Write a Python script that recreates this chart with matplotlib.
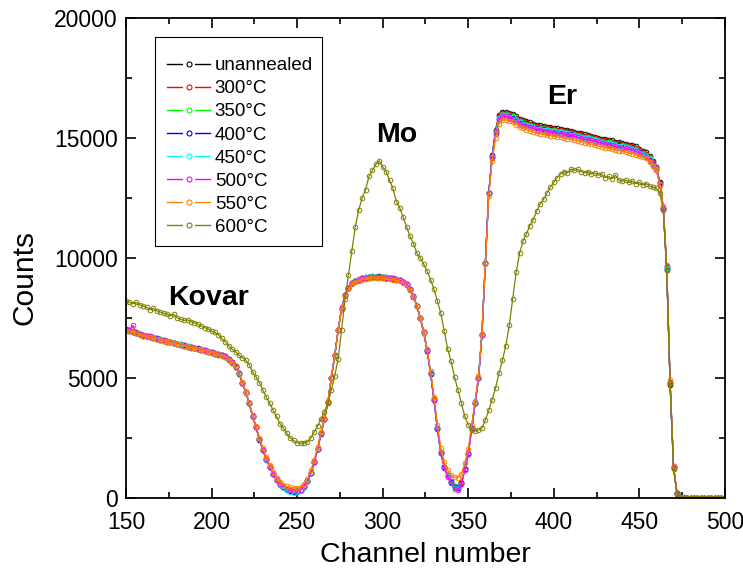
import numpy as np
import matplotlib
matplotlib.use("Agg")
import matplotlib.pyplot as plt
from matplotlib.lines import Line2D
from matplotlib.patches import Rectangle
from matplotlib.legend_handler import HandlerTuple
from matplotlib.ticker import MultipleLocator

plt.rcParams["font.family"] = ["Liberation Sans", "DejaVu Sans"]

# RBS spectra, one value every 2 channels from 150 to 500
channels = np.arange(150, 501, 2)

labels = ["unannealed", "300°C", "350°C", "400°C", "450°C", "500°C", "550°C", "600°C"]
colors = ["#000000", "#ff0000", "#00ff00", "#0000ff", "#00ffff", "#ff00ff", "#ff8000", "#808000"]

counts_unannealed = [
    7050, 6980, 6900, 6910, 6850, 6760, 6770, 6700, 6690, 6620,
    6620, 6540, 6550, 6480, 6470, 6400, 6410, 6330, 6340, 6270,
    6260, 6200, 6210, 6140, 6120, 6050, 6040, 5970, 5960, 5880,
    5790, 5640, 5490, 5180, 4810, 4380, 3970, 3380, 2960, 2430,
    2010, 1600, 1310, 980, 760, 560, 450, 350, 310, 260,
    280, 320, 470, 690, 1060, 1480, 2060, 2680, 3310, 3980,
    5020, 5930, 7010, 7880, 8460, 8730, 8970, 9030, 9120, 9130,
    9200, 9180, 9240, 9190, 9230, 9180, 9200, 9150, 9170, 9100,
    9100, 8980, 8920, 8680, 8420, 7980, 7520, 6880, 6170, 5180,
    4110, 2880, 1890, 1290, 930, 680, 470, 420, 630, 1190,
    1860, 2880, 3960, 4980, 6820, 9780, 12720, 14300, 15350, 15950,
    16100, 16080, 16050, 16000, 15900, 15800, 15750, 15700, 15650, 15600,
    15550, 15530, 15500, 15470, 15450, 15420, 15400, 15380, 15350, 15330,
    15300, 15270, 15230, 15200, 15150, 15130, 15100, 15050, 15020, 14980,
    14950, 14930, 14900, 14850, 14830, 14800, 14770, 14730, 14700, 14650,
    14550, 14480, 14400, 14250, 14050, 13800, 13150, 12050, 9500, 4700,
    1250, 180, 30, 15, 10, 5, 5, 10, 5, 5,
    5, 10, 5, 5, 10, 5,
]

counts_300 = [
    6980, 6970, 6940, 6860, 6840, 6790, 6730, 6740, 6670, 6650,
    6590, 6570, 6510, 6510, 6450, 6430, 6380, 6360, 6310, 6300,
    6240, 6230, 6180, 6160, 6100, 6080, 6020, 6000, 5940, 5910,
    5770, 5660, 5470, 5210, 4790, 4410, 3950, 3410, 2940, 2460,
    1990, 1630, 1290, 1010, 740, 590, 460, 380, 330, 290,
    300, 340, 490, 710, 1040, 1510, 2040, 2710, 3290, 4010,
    4990, 5960, 6990, 7910, 8440, 8760, 8940, 9060, 9090, 9160,
    9170, 9210, 9200, 9220, 9200, 9210, 9170, 9180, 9140, 9130,
    9070, 9010, 8890, 8710, 8390, 8010, 7490, 6910, 6140, 5210,
    4090, 2910, 1910, 1310, 960, 710, 520, 460, 660, 1210,
    1840, 2910, 3940, 5010, 6790, 9810, 12690, 14250, 15300, 15900,
    16050, 16050, 16000, 15950, 15850, 15750, 15700, 15650, 15600, 15550,
    15500, 15480, 15450, 15420, 15400, 15370, 15350, 15330, 15300, 15280,
    15250, 15220, 15180, 15150, 15100, 15080, 15050, 15000, 14970, 14930,
    14900, 14880, 14850, 14800, 14780, 14750, 14720, 14680, 14650, 14600,
    14500, 14430, 14350, 14200, 14000, 13780, 13120, 12080, 9550, 4750,
    1280, 190, 35, 20, 10, 10, 5, 5, 10, 5,
    10, 5, 5, 10, 5, 5,
]

counts_350 = [
    7020, 6940, 6930, 6890, 6820, 6800, 6740, 6730, 6690, 6630,
    6610, 6550, 6540, 6490, 6470, 6410, 6400, 6340, 6330, 6280,
    6260, 6210, 6200, 6140, 6120, 6060, 6040, 5980, 5960, 5890,
    5790, 5640, 5490, 5190, 4810, 4390, 3970, 3390, 2960, 2440,
    2010, 1610, 1310, 990, 760, 570, 460, 360, 320, 270,
    290, 320, 480, 690, 1050, 1490, 2050, 2690, 3300, 3990,
    5010, 5940, 7000, 7890, 8450, 8740, 8960, 9040, 9110, 9140,
    9190, 9190, 9230, 9190, 9210, 9190, 9190, 9160, 9160, 9110,
    9090, 8990, 8910, 8690, 8410, 7990, 7510, 6890, 6160, 5190,
    4100, 2890, 1900, 1300, 940, 690, 490, 440, 640, 1200,
    1850, 2890, 3950, 4990, 6810, 9790, 12710, 14220, 15250, 15850,
    16000, 16000, 15950, 15900, 15800, 15700, 15650, 15600, 15550, 15500,
    15450, 15430, 15400, 15370, 15350, 15320, 15300, 15280, 15250, 15230,
    15200, 15170, 15130, 15100, 15050, 15030, 15000, 14950, 14920, 14880,
    14850, 14830, 14800, 14750, 14730, 14700, 14670, 14630, 14600, 14550,
    14450, 14380, 14300, 14150, 13950, 13720, 13080, 12060, 9580, 4780,
    1300, 200, 40, 20, 15, 10, 10, 5, 5, 10,
    5, 5, 10, 5, 5, 10,
]

counts_400 = [
    6990, 6970, 6910, 6870, 6840, 6770, 6760, 6710, 6680, 6650,
    6590, 6570, 6520, 6510, 6450, 6430, 6380, 6360, 6310, 6300,
    6240, 6230, 6180, 6160, 6100, 6080, 6020, 6000, 5940, 5910,
    5770, 5660, 5470, 5210, 4790, 4410, 3950, 3410, 2940, 2460,
    1990, 1630, 1290, 1010, 740, 590, 440, 360, 300, 240,
    260, 320, 470, 710, 1040, 1510, 2040, 2710, 3290, 4010,
    4990, 5960, 6990, 7910, 8440, 8760, 8940, 9060, 9090, 9160,
    9170, 9210, 9210, 9210, 9210, 9210, 9170, 9180, 9140, 9130,
    9070, 9010, 8890, 8710, 8390, 8010, 7490, 6910, 6140, 5210,
    4090, 2910, 1890, 1280, 920, 660, 450, 400, 620, 1190,
    1840, 2910, 3940, 5010, 6790, 9810, 12690, 14200, 15200, 15800,
    15950, 15940, 15910, 15840, 15760, 15640, 15610, 15540, 15510, 15440,
    15410, 15370, 15360, 15310, 15310, 15260, 15260, 15220, 15210, 15170,
    15160, 15110, 15090, 15040, 15010, 14970, 14960, 14890, 14880, 14820,
    14810, 14770, 14760, 14690, 14690, 14640, 14630, 14570, 14560, 14490,
    14410, 14320, 14260, 14090, 13910, 13690, 13110, 12090, 9610, 4790,
    1310, 210, 45, 25, 15, 10, 10, 10, 5, 10,
    10, 5, 10, 10, 5, 10,
]

counts_450 = [
    7010, 6950, 6930, 6870, 6840, 6770, 6760, 6710, 6690, 6630,
    6610, 6550, 6540, 6490, 6470, 6410, 6400, 6340, 6330, 6280,
    6260, 6210, 6200, 6140, 6120, 6060, 6040, 5980, 5960, 5890,
    5790, 5640, 5490, 5190, 4810, 4390, 3970, 3390, 2960, 2440,
    2000, 1600, 1280, 980, 730, 550, 420, 330, 270, 220,
    240, 300, 460, 690, 1050, 1490, 2050, 2690, 3300, 3990,
    5010, 5940, 7000, 7890, 8450, 8740, 8960, 9040, 9110, 9140,
    9190, 9190, 9230, 9190, 9210, 9190, 9190, 9160, 9160, 9110,
    9090, 8990, 8910, 8690, 8410, 7990, 7510, 6890, 6160, 5190,
    4080, 2880, 1870, 1260, 900, 640, 420, 370, 600, 1180,
    1830, 2890, 3950, 4990, 6810, 9790, 12710, 14210, 15220, 15820,
    15960, 15960, 15890, 15860, 15740, 15660, 15590, 15560, 15490, 15460,
    15390, 15390, 15340, 15330, 15290, 15280, 15240, 15240, 15190, 15190,
    15140, 15130, 15070, 15060, 14990, 14990, 14940, 14910, 14860, 14840,
    14790, 14790, 14740, 14710, 14670, 14660, 14610, 14590, 14540, 14510,
    14390, 14340, 14240, 14110, 13890, 13710, 13090, 12110, 9590, 4810,
    1290, 190, 35, 20, 10, 10, 5, 10, 10, 5,
    5, 10, 5, 10, 10, 5,
]

counts_500 = [
    6990, 6980, 7200, 6890, 6820, 6790, 6740, 6730, 6670, 6640,
    6600, 6570, 6520, 6500, 6450, 6420, 6380, 6350, 6310, 6290,
    6240, 6220, 6180, 6150, 6100, 6070, 6020, 5990, 5940, 5900,
    5780, 5650, 5480, 5200, 4800, 4400, 3960, 3400, 2950, 2450,
    2000, 1620, 1300, 1000, 760, 590, 470, 390, 330, 300,
    300, 340, 490, 700, 1050, 1500, 2050, 2700, 3300, 4000,
    5000, 5950, 7000, 7900, 8450, 8750, 8950, 9050, 9100, 9150,
    9180, 9220, 9200, 9210, 9200, 9220, 9180, 9160, 9150, 9100,
    9080, 9000, 8900, 8700, 8400, 8000, 7500, 6900, 6150, 5200,
    4080, 2870, 1860, 1250, 880, 620, 390, 330, 580, 1160,
    1820, 2880, 3940, 4990, 6800, 9800, 12700, 14150, 15150, 15750,
    15900, 15900, 15850, 15800, 15700, 15600, 15550, 15500, 15450, 15400,
    15350, 15330, 15300, 15270, 15250, 15220, 15200, 15180, 15150, 15130,
    15100, 15070, 15030, 15000, 14950, 14930, 14900, 14850, 14820, 14780,
    14750, 14730, 14700, 14650, 14630, 14600, 14570, 14530, 14500, 14450,
    14350, 14280, 14200, 14050, 13850, 13650, 13050, 12100, 9650, 4850,
    1320, 210, 40, 20, 10, 10, 10, 5, 5, 10,
    10, 10, 5, 5, 10, 10,
]

counts_550 = [
    6970, 6950, 6900, 6860, 6810, 6770, 6720, 6700, 6660, 6620,
    6580, 6540, 6510, 6480, 6440, 6400, 6370, 6330, 6300, 6270,
    6230, 6200, 6170, 6130, 6090, 6050, 6010, 5970, 5930, 5880,
    5770, 5640, 5480, 5210, 4820, 4430, 4000, 3450, 3000, 2520,
    2080, 1700, 1390, 1090, 850, 680, 560, 480, 440, 420,
    420, 460, 600, 810, 1150, 1590, 2130, 2760, 3350, 4040,
    5020, 5940, 6980, 7870, 8400, 8700, 8900, 9000, 9050, 9100,
    9130, 9150, 9170, 9150, 9160, 9150, 9130, 9120, 9100, 9070,
    9030, 8960, 8860, 8680, 8390, 8010, 7520, 6930, 6200, 5280,
    4220, 3050, 2080, 1500, 1150, 960, 870, 850, 1000, 1450,
    2050, 3050, 4050, 5080, 6850, 9750, 12600, 14050, 15000, 15600,
    15750, 15750, 15700, 15650, 15550, 15450, 15400, 15350, 15300, 15250,
    15200, 15180, 15150, 15120, 15100, 15070, 15050, 15030, 15000, 14980,
    14950, 14920, 14880, 14850, 14800, 14780, 14750, 14700, 14670, 14630,
    14600, 14580, 14550, 14500, 14480, 14450, 14420, 14380, 14350, 14300,
    14250, 14200, 14150, 14000, 13850, 13650, 13080, 12150, 9700, 4900,
    1350, 220, 45, 25, 15, 10, 10, 10, 10, 10,
    10, 10, 10, 10, 10, 10,
]

counts_600 = [
    8200, 8150, 8100, 8150, 8050, 8000, 7950, 7850, 7900, 7800,
    7750, 7700, 7650, 7600, 7650, 7500, 7450, 7400, 7420, 7350,
    7300, 7250, 7150, 7100, 7050, 6950, 6900, 6800, 6650, 6500,
    6350, 6200, 6100, 5950, 5850, 5750, 5550, 5250, 5050, 4800,
    4500, 4200, 3950, 3650, 3400, 3100, 2900, 2700, 2500, 2400,
    2300, 2280, 2300, 2330, 2500, 2750, 3000, 3300, 3600, 3950,
    4500, 5100, 5800, 7000, 8300, 9300, 10300, 11300, 12000, 12500,
    12850, 13400, 13650, 13900, 14050, 13800, 13600, 13250, 12900, 12350,
    12100, 11700, 11300, 10900, 10600, 10200, 10000, 9750, 9450, 9100,
    8700, 8200, 7700, 6950, 6200, 5700, 5050, 4500, 3950, 3400,
    3050, 2850, 2800, 2830, 2900, 3250, 3650, 4100, 4600, 5200,
    5750, 6350, 7200, 8300, 9400, 10200, 10700, 11000, 11350, 11600,
    11950, 12250, 12450, 12700, 12950, 13150, 13350, 13500, 13600, 13550,
    13700, 13650, 13700, 13600, 13550, 13600, 13500, 13550, 13450, 13500,
    13350, 13400, 13300, 13450, 13250, 13200, 13250, 13150, 13200, 13100,
    13150, 13050, 13100, 13000, 12950, 12900, 12700, 12000, 9500, 4800,
    1200, 200, 30, 20, 20, 15, 20, 15, 20, 15,
    20, 15, 20, 15, 20, 15,
]

spectra = [counts_unannealed, counts_300, counts_350, counts_400,
           counts_450, counts_500, counts_550, counts_600]

# element labels: (text, channel, counts)
element_labels = [("Kovar", 198, 8320), ("Mo", 308, 15120), ("Er", 405, 16720)]


def plot_spectra(output_file):
    fig = plt.figure(figsize=(7.43, 5.76), dpi=100)
    ax = fig.add_axes([0.1696, 0.1354, 0.806, 0.8333])

    handles = []
    for counts, color in zip(spectra, colors):
        ax.plot(channels, counts, color=color, lw=0.9, marker="o", ms=3.3,
                mfc="none", mec=color, mew=0.7)
        # legend entry: line - marker - line, with a white gap around the circle
        handles.append((
            Line2D([], [], color=color, lw=1.0),
            Line2D([], [], ls="none", marker="s", ms=9, mfc="white", mec="white", mew=0),
            Line2D([], [], ls="none", marker="o", ms=3.6, mfc="none", mec=color, mew=0.8),
        ))

    for text, x, y in element_labels:
        ax.text(x, y, text, fontsize=20.5, fontweight="bold", ha="center", va="center")

    ax.set_xlim(150, 500)
    ax.set_ylim(0, 20000)
    ax.xaxis.set_major_locator(MultipleLocator(50))
    ax.xaxis.set_minor_locator(MultipleLocator(25))
    ax.yaxis.set_major_locator(MultipleLocator(5000))
    ax.yaxis.set_minor_locator(MultipleLocator(2500))
    ax.tick_params(which="both", direction="in", top=True, right=True,
                   width=1.2, labelsize=16.5)
    ax.tick_params(which="major", length=7)
    ax.tick_params(which="minor", length=4)
    ax.tick_params(axis="x", which="major", pad=9)
    ax.tick_params(axis="y", which="major", pad=6)
    for spine in ax.spines.values():
        spine.set_linewidth(1.3)

    ax.set_xlabel("Channel number", fontsize=20.5, labelpad=6)
    ax.set_ylabel("Counts", fontsize=21.5, va="center")
    ax.yaxis.set_label_coords(-0.17, 0.46)

    # legend box drawn by hand, entries placed inside it
    fig.patches.append(Rectangle((155 / 743, 1 - 246 / 576), 167 / 743, 209 / 576,
                                 transform=fig.transFigure, fill=False,
                                 edgecolor="black", linewidth=0.8))
    ax.legend(handles, labels, handler_map={tuple: HandlerTuple(ndivide=1, pad=0)},
              loc="upper left", bbox_to_anchor=(167 / 743, 1 - 57 / 576),
              bbox_transform=fig.transFigure, fontsize=13.5, handlelength=2.3,
              handletextpad=0.25, labelspacing=0.32, borderpad=0,
              borderaxespad=0, frameon=False)

    fig.savefig(output_file, dpi=100)


if __name__ == "__main__":
    plot_spectra("out.png")
